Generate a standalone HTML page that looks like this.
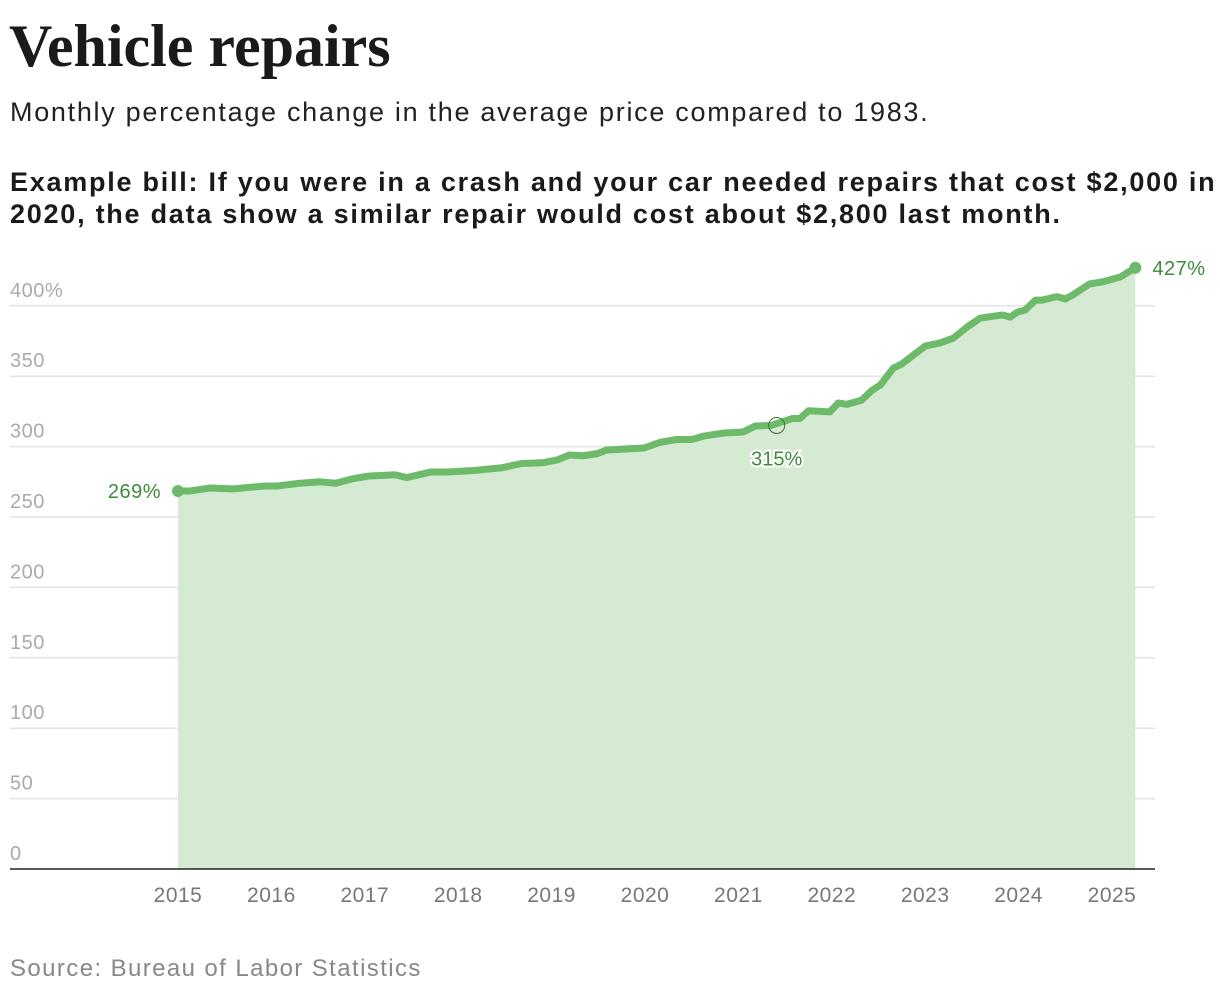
<!DOCTYPE html>
<html><head><meta charset="utf-8"><style>
body{margin:0;background:#fff;width:1220px;height:996px;overflow:hidden;font-family:"Liberation Sans",sans-serif}
h1{position:absolute;left:9px;top:12px;margin:0;font-family:"Liberation Serif",serif;font-weight:bold;font-size:60px;color:#1a1a1a;letter-spacing:0px}
.sub{position:absolute;left:10px;top:97px;font-size:27px;letter-spacing:1.7px;color:#222}
.q{position:absolute;left:10px;top:166px;font-size:27px;letter-spacing:1.75px;font-weight:bold;color:#1a1a1a;line-height:32px;width:1215px;white-space:nowrap}
.src{position:absolute;left:10px;top:955px;font-size:24px;letter-spacing:1.4px;color:#888}
svg{position:absolute;left:0;top:0}
</style></head><body>
<h1>Vehicle repairs</h1>
<div class="sub">Monthly percentage change in the average price compared to 1983.</div>
<div class="q">Example bill: If you were in a crash and your car needed repairs that cost $2,000 in<br>2020, the data show a similar repair would cost about $2,800 last month.</div>
<svg id="chart" width="1220" height="996"></svg>
<div class="src">Source: Bureau of Labor Statistics</div>
<script>
const years=[2015.00,2015.13,2015.34,2015.59,2015.93,2016.06,2016.31,2016.52,2016.69,2016.86,2017.03,2017.32,2017.45,2017.71,2017.88,2018.17,2018.47,2018.68,2018.90,2019.06,2019.19,2019.34,2019.49,2019.59,2019.99,2020.16,2020.33,2020.50,2020.63,2020.85,2021.05,2021.18,2021.35,2021.58,2021.66,2021.75,2021.98,2022.07,2022.16,2022.32,2022.43,2022.52,2022.66,2022.75,2023.00,2023.16,2023.30,2023.45,2023.59,2023.83,2023.91,2023.99,2024.07,2024.18,2024.25,2024.41,2024.50,2024.58,2024.76,2024.90,2025.01,2025.09,2025.25];
const values=[268.5,268.5,270.6,270,272,272,274,275,274,277,279,280,278,282,282,283,285,288,288.5,290.5,294,293.5,295,297.6,299,303,305,305,307.5,309.7,310.4,314.6,315,320,320,325.5,324.7,331,330,333,340,343.8,355.8,358.7,371.4,373.6,377,385,391.3,393.5,392,395.6,397,404,404,406.5,404.8,407.7,415.5,417,419,420.5,427];
const yTicks=[0,50,100,150,200,250,300,350,400];
const xTicks=[2015,2016,2017,2018,2019,2020,2021,2022,2023,2024,2025];
const highlight={year:2021.41,value:315,label:"315%"};
const startLabel="269%", endLabel="427%";
const X=y=>178+(y-2015)*93.4, Y=v=>869-v*1.408;
const svg=document.getElementById('chart');const NS='http://www.w3.org/2000/svg';
function mk(t,a,txt){const e=document.createElementNS(NS,t);for(const k in a)e.setAttribute(k,a[k]);if(txt!=null)e.textContent=txt;svg.appendChild(e);return e;}
yTicks.forEach(t=>{
 if(t>0){const g=mk('line',{x1:10,x2:1155,y1:Y(t),y2:Y(t),stroke:'#e3e3e3','stroke-width':1.5});
 
 }
 const l=mk('text',{x:10,y:Y(t)-9,fill:'#aaa','font-size':20,'letter-spacing':0.5,'font-family':'Liberation Sans, sans-serif'},t===400?'400%':String(t));
 
 
});
let d='M'+X(years[0])+','+Y(0);
years.forEach((y,i)=>{d+=' L'+X(y)+','+Y(values[i]);});
d+=' L'+X(years[years.length-1])+','+Y(0)+' Z';
const area=mk('path',{d:d,fill:'#d4ead3'});


let ld='';years.forEach((y,i)=>{ld+=(i?' L':'M')+X(y)+','+Y(values[i]);});
const line=mk('path',{d:ld,fill:'none',stroke:'#6dbb6a','stroke-width':7,'stroke-linejoin':'round','stroke-linecap':'round'});


const ax=mk('line',{x1:10,x2:1155,y1:Y(0),y2:Y(0),stroke:'#222','stroke-width':1.5});


xTicks.forEach(t=>{const l=mk('text',{x:X(t),y:902,fill:'#777','font-size':21,'letter-spacing':0.5,'text-anchor':'middle','font-family':'Liberation Sans, sans-serif'},String(t));
 
 });
const n=years.length-1;
const s=mk('circle',{cx:X(years[0]),cy:Y(values[0]),r:6,fill:'#6dbb6a'});


const e=mk('circle',{cx:X(years[n]),cy:Y(values[n]),r:6,fill:'#6dbb6a'});


const sl=mk('text',{x:X(years[0])-17,y:Y(values[0])+7,fill:'#3d8b3a','font-size':20,'letter-spacing':0.5,'text-anchor':'end','font-family':'Liberation Sans, sans-serif'},startLabel);


const el=mk('text',{x:X(years[n])+17,y:Y(values[n])+7,fill:'#3d8b3a','font-size':20,'letter-spacing':0.5,'font-family':'Liberation Sans, sans-serif'},endLabel);


const hc=mk('circle',{cx:X(highlight.year),cy:Y(highlight.value),r:8,fill:'none',stroke:'#3d6b3a','stroke-width':1});


const hl=mk('text',{x:X(highlight.year),y:Y(highlight.value)+40,fill:'#3d8b3a','font-size':20,'text-anchor':'middle',stroke:'#fff','stroke-width':4,'paint-order':'stroke','font-family':'Liberation Sans, sans-serif'},highlight.label);


</script>
</body></html>
